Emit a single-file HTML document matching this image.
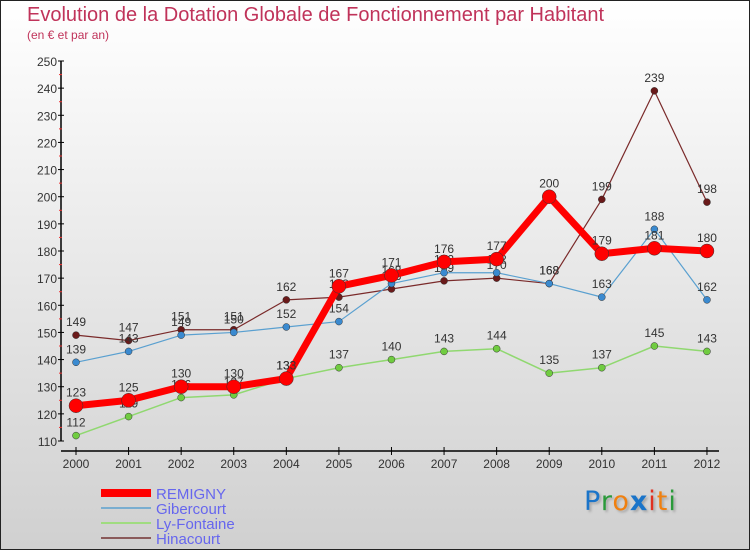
<!DOCTYPE html>
<html><head><meta charset="utf-8"><style>
html,body{margin:0;padding:0}
body{width:750px;height:550px;overflow:hidden;font-family:"Liberation Sans",sans-serif}
#wrap{position:relative;width:748px;height:548px;border:1px solid #222;background:linear-gradient(#ffffff,#d0d0d0)}
.t{position:absolute;color:#c0335a;white-space:nowrap}
</style></head><body>
<div id="wrap">
<div class="t" style="left:26px;top:3px;font-size:20px;">Evolution de la Dotation Globale de Fonctionnement par Habitant</div>
<div class="t" style="left:26px;top:27px;font-size:12px;">(en € et par an)</div>
<svg id="chart" width="750" height="550" style="position:absolute;left:0;top:0"></svg>
<div style="position:absolute;left:583px;top:485px;font-size:27px;font-family:'DejaVu Sans',sans-serif;text-shadow:2px 2px 2px #aaa;letter-spacing:1px"><span style="color:#1a74c9">P</span><span style="color:#2a9a3a">r</span><span style="color:#f08010">o</span><span style="color:#1a74c9;font-weight:bold">x</span><span style="color:#e03020">i</span><span style="color:#f08010">t</span><span style="color:#2a9a3a">i</span></div>
</div>
<script>
const years=[2000,2001,2002,2003,2004,2005,2006,2007,2008,2009,2010,2011,2012];
const remigny=[123,125,130,130,133,167,171,176,177,200,179,181,180];
const gibercourt=[139,143,149,150,152,154,168,172,172,168,163,188,162];
const lyfontaine=[112,119,126,127,133,137,140,143,144,135,137,145,143];
const hinacourt=[149,147,151,151,162,163,166,169,170,168,199,239,198];
const yTicks=[110,120,130,140,150,160,170,180,190,200,210,220,230,240,250];
const NS='http://www.w3.org/2000/svg';
const svg=document.getElementById('chart');
const X=i=>75+i*52.58;
const Y=v=>440-(v-110)*(380/140);
function mk(tag,attrs,parent){const e=document.createElementNS(NS,tag);for(const k in attrs)e.setAttribute(k,attrs[k]);(parent||svg).appendChild(e);return e;}
// axes
let ax=mk('line',{x1:60,y1:Y(250),x2:60,y2:Y(110),stroke:'#000','stroke-width':1.5});


let xa=mk('line',{x1:60,y1:450,x2:718,y2:450,stroke:'#000','stroke-width':1.5});


yTicks.forEach((v,i)=>{
 mk('line',{x1:57,y1:Y(v),x2:63,y2:Y(v),stroke:'#000'});
 if(i<yTicks.length-1) mk('line',{x1:58,y1:Y(v+5),x2:61,y2:Y(v+5),stroke:'#e33'});
 const t=mk('text',{x:56,y:Y(v)+5,'text-anchor':'end','font-size':12,fill:'#333'});
 t.textContent=v;
 
 
});
years.forEach((yr,i)=>{
 mk('line',{x1:X(i),y1:446,x2:X(i),y2:454,stroke:'#000'});
 const t=mk('text',{x:X(i),y:467,'text-anchor':'middle','font-size':12,fill:'#333'});
 t.textContent=yr;
 
 
});
function series(name,data,color,dot,w,r){
 const g=mk('g',{});
 
 
 mk('polyline',{points:data.map((v,i)=>X(i)+','+Y(v)).join(' '),fill:'none',stroke:color,'stroke-width':w,'stroke-linejoin':'round'},g);
 data.forEach((v,i)=>{
  const c=mk('circle',{cx:X(i),cy:Y(v),r:r,fill:dot,stroke:'#333','stroke-width':0.5},g);
  
  
  const t=mk('text',{x:X(i),y:Y(v)-9,'text-anchor':'middle','font-size':12,fill:'#333'},g);
  t.textContent=v;
  
  
 });
}
series('hinacourt',hinacourt,'#7a2a2a','#6a1a1a',1.2,3.5);
series('lyfontaine',lyfontaine,'#90d870','#70cc40',1.5,3.5);
series('gibercourt',gibercourt,'#5aa0d0','#3a8ad0',1.2,3.5);
series('remigny',remigny,'#ff0000','#ff0000',7,7);
const leg=[['REMIGNY','#ff0000',8],['Gibercourt','#7aaed0',2],['Ly-Fontaine','#a0dc80',2],['Hinacourt','#8a5a5a',2]];
leg.forEach((l,i)=>{
 const y=492+i*15;
 const g=mk('g',{});
 
 
 mk('line',{x1:100,y1:y,x2:150,y2:y,stroke:l[1],'stroke-width':l[2]},g);
 const t=mk('text',{x:155,y:y+6,'font-size':15,fill:'#6666ee'},g);
 t.textContent=l[0];
});
</script>
</body></html>
